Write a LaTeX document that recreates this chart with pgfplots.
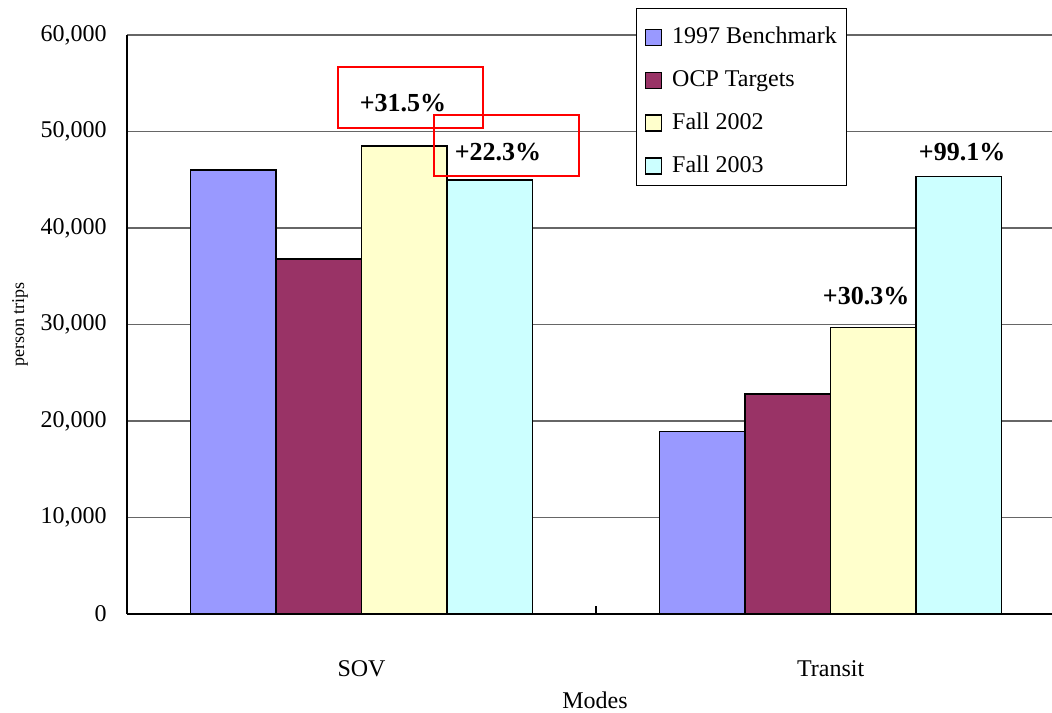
\documentclass[border=0pt]{standalone}
\usepackage{fontspec}
\setmainfont{Liberation Serif}
\usepackage{pgfplots}
\pgfplotsset{compat=1.18}
\definecolor{bench}{HTML}{9999FF}
\definecolor{ocp}{HTML}{993366}
\definecolor{fallA}{HTML}{FFFFCC}
\definecolor{fallB}{HTML}{CCFFFF}
\begin{document}
\begin{tikzpicture}
\begin{axis}[
  width=462.5pt, height=289.5pt, scale only axis,
  xmin=-0.5, xmax=1.472, ymin=0, ymax=60000,
  axis lines*=left, axis line style={line width=1pt},
  ybar=0pt, bar width=0.1823,
  xtick={0,1}, xticklabels={SOV,Transit}, xtick style={draw=none},
  xticklabel style={anchor=center, yshift=-23pt},
  ytick={0,10000,...,60000}, ytick style={draw=none},
  scaled y ticks=false,
  /pgf/number format/assume math mode=true,
  /pgf/number format/1000 sep={,},
  yticklabel style={anchor=east, inner sep=0pt, xshift=-10pt},
  ymajorgrids, grid style={black!60, line width=0.6pt},
  tick label style={font=\fontsize{12}{14}\selectfont},
  xlabel={Modes}, xlabel style={font=\fontsize{12}{14}\selectfont, at={(axis description cs:0.506,-0.1485)}, anchor=center},
  ylabel={person trips}, ylabel style={font=\fontsize{9}{11}\selectfont, at={(axis description cs:-0.1157,0.5)}, anchor=center},
  clip=false,
  legend cell align=left,
  legend style={at={(rel axis cs:0.5503,1.0466)}, anchor=north west, draw=black, line width=0.6pt, fill=white,
    font=\fontsize{12}{14}\selectfont, row sep=8pt, inner xsep=4pt, inner ysep=5.5pt,
    nodes={inner ysep=0pt, inner xsep=1pt, text height=12pt, text depth=0pt}},
  legend image code/.code={\draw[#1, line width=0.8pt] (1pt,-7pt) rectangle (9pt,1pt); \path (13pt,0pt);},
  every axis plot/.append style={draw=black, line width=0.8pt},
]
\addplot[fill=bench] coordinates {(0,46000) (1,18900)};
\addplot[fill=ocp] coordinates {(0,36800) (1,22800)};
\addplot[fill=fallA] coordinates {(0,48500) (1,29700)};
\addplot[fill=fallB] coordinates {(0,45000) (1,45350)};
\legend{1997 Benchmark,OCP Targets,Fall 2002,Fall 2003}
\draw[line width=0.6pt] (axis cs:0.5,0) -- ([yshift=4pt]axis cs:0.5,0);
\draw[red, line width=1pt] (axis cs:-0.0501,56680) rectangle (axis cs:0.259,50360);
\draw[red, line width=1pt] (axis cs:0.1546,51710) rectangle (axis cs:0.4638,45390);
\begin{scope}[font=\fontsize{13}{15}\selectfont\bfseries]
\node at (axis cs:0.0885,52950) {+31.5\%};
\node at (axis cs:0.291,47880) {+22.3\%};
\node at (axis cs:1.0757,32950) {+30.3\%};
\node at (axis cs:1.2804,47880) {+99.1\%};
\end{scope}
\end{axis}
\pgfresetboundingbox
\useasboundingbox (-63.5pt,-49pt) rectangle (462.5pt,307pt);
\end{tikzpicture}
\end{document}
